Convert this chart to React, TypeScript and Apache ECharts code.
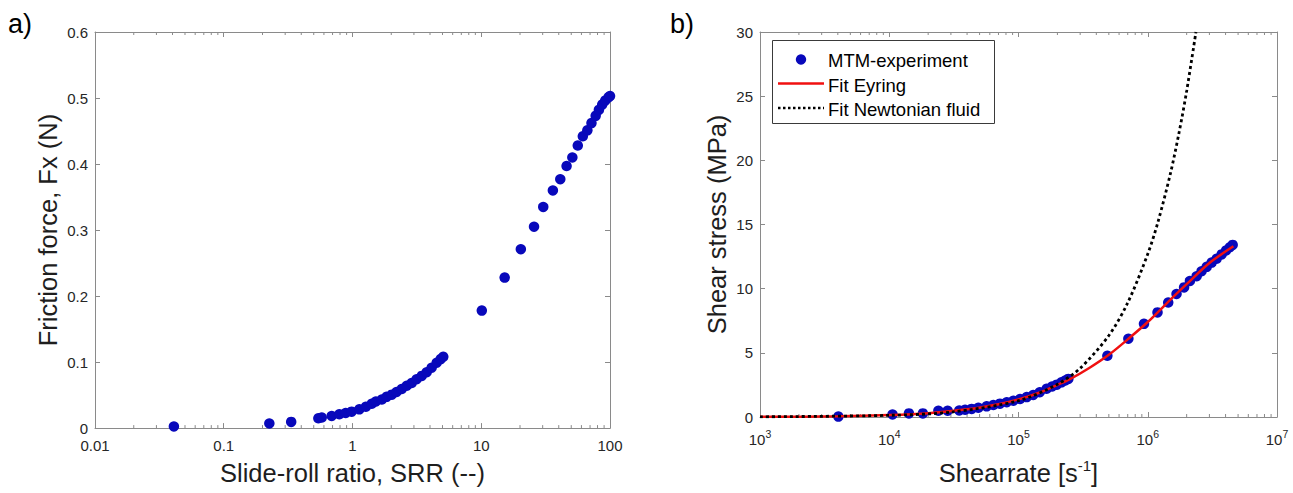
import React, { useEffect, useRef } from "react";
import * as echarts from "echarts";

// ---------- Panel a) data ----------
const srrA = [
  0.041, 0.226, 0.334, 0.543, 0.577, 0.689, 0.79, 0.885, 0.985, 1.13, 1.27, 1.41, 1.52, 1.69, 1.84,
  2.02, 2.2, 2.41, 2.64, 2.88, 3.15, 3.45, 3.77, 4.12, 4.51, 4.84, 5.07, 10.1, 15.2, 20.3, 25.7, 30.3,
  36.0, 41.1, 46.0, 51.0, 56.2, 61.5, 66.7, 71.8, 77.4, 82.0, 87.0, 91.8, 97.3, 100,
];
const fxA = [
  0.0025, 0.007, 0.0094, 0.0149, 0.016, 0.0184, 0.0209, 0.0229, 0.0249, 0.0284, 0.0323, 0.0368, 0.0403,
  0.0433, 0.0473, 0.0507, 0.0547, 0.0592, 0.0642, 0.0682, 0.0741, 0.0791, 0.0846, 0.0915, 0.099, 0.1045,
  0.108, 0.178, 0.228, 0.271, 0.305, 0.335, 0.36, 0.377, 0.397, 0.41, 0.428, 0.442, 0.451, 0.462, 0.473,
  0.482, 0.49, 0.496, 0.501, 0.503,
];
const xTickLabelsA = ["0.01", "0.1", "1", "10", "100"];

// ---------- Panel b) data ----------
const rateB = [
  4040, 10600, 14200, 18200, 24000, 28300, 34800, 38600, 43400, 48900, 56700, 63900, 71900, 81100, 91300,
  102800, 115800, 130000, 146000, 165000, 182000, 198000, 215000, 230000, 243000, 487000, 708000, 935000,
  1190000, 1440000, 1670000, 1910000, 2120000, 2390000, 2610000, 2860000, 3120000, 3410000, 3730000,
  4030000, 4320000, 4540000,
];
const stressB = [
  0.03, 0.2, 0.28, 0.28, 0.49, 0.49, 0.51, 0.56, 0.63, 0.72, 0.83, 0.93, 1.04, 1.15, 1.27, 1.4, 1.55, 1.72,
  1.93, 2.2, 2.38, 2.52, 2.7, 2.85, 2.97, 4.77, 6.1, 7.26, 8.15, 8.92, 9.59, 10.1, 10.6, 10.97, 11.36, 11.7,
  12.03, 12.33, 12.67, 12.97, 13.23, 13.41,
];
const eyringRate = [
  1000, 4000, 10000, 20000, 40000, 70000, 100000, 150000, 200000, 250000, 350000, 500000, 700000, 1000000,
  1500000, 2000000, 3000000, 4600000,
];
const eyringStress = [
  0.01, 0.05, 0.15, 0.3, 0.6, 1.0, 1.37, 1.95, 2.5, 2.95, 3.8, 4.85, 6.05, 7.4, 9.15, 10.35, 12.0, 13.3,
];
const newtonRate = [
  1000, 10000, 30000, 100000, 200000, 300000, 500000, 700000, 1000000, 1200000, 1500000, 1750000, 2000000,
  2360000,
];
const newtonStress = [0.013, 0.13, 0.38, 1.27, 2.55, 3.8, 6.35, 8.9, 12.7, 15.2, 19.0, 22.2, 25.4, 30];
const legendNamesB = ["MTM-experiment", "Fit Eyring", "Fit Newtonian fluid"];

const FONT = "Liberation Sans, Arial, Helvetica, sans-serif";
const AXIS = "#8a8a8a";
const TICKTXT = "#262626";
const TITLE = "#1e1e1e";
const BLUE = "#0808bb";
const RED = "#f01010";

const zip = (a: number[], b: number[]) => a.map((v, i) => [v, b[i]]);

function minorValues(firstDecade: number, decades: number) {
  const out: number[] = [];
  for (let d = 0; d < decades; d++) {
    const base = Math.pow(10, firstDecade + d);
    for (let k = 2; k <= 9; k++) out.push(parseFloat((k * base).toPrecision(3)));
  }
  return out;
}

function minorTickSeries(xAxisIndex: number, yAxisIndex: number, values: number[], yMin: number, yMax: number) {
  return {
    type: "custom",
    xAxisIndex,
    yAxisIndex,
    silent: true,
    clip: false,
    z: 1,
    data: values.map((v) => [v, yMin]),
    renderItem: (params: any, api: any) => {
      const v = api.value(0);
      const b = api.coord([v, yMin]);
      const t = api.coord([v, yMax]);
      const st = { stroke: AXIS, lineWidth: 1 };
      return {
        type: "group",
        children: [
          { type: "line", shape: { x1: b[0], y1: b[1], x2: b[0], y2: b[1] - 3 }, style: st },
          { type: "line", shape: { x1: t[0], y1: t[1], x2: t[0], y2: t[1] + 3 }, style: st },
        ],
      };
    },
  };
}

const axisLine = { show: true, onZero: false, lineStyle: { color: AXIS, width: 1 } };
const tickIn = { show: true, inside: true, length: 5, lineStyle: { color: AXIS } };

export default function App() {
  const ref = useRef<HTMLDivElement>(null);
  useEffect(() => {
    if (!ref.current) return;
    const chart = echarts.init(ref.current, undefined, { renderer: "svg" });
    const option: any = {
      animation: false,
      backgroundColor: "#ffffff",
      textStyle: { fontFamily: FONT },
      grid: [
        { left: 95, top: 32, width: 515, height: 402 },
        { left: 760, top: 32, width: 517, height: 390 },
      ],
      xAxis: [
        {
          type: "log",
          gridIndex: 0,
          min: 0.01,
          max: 100,
          logBase: 10,
          position: "bottom",
          axisLine,
          axisTick: tickIn,
          splitLine: { show: false },
          axisLabel: {
            color: TICKTXT,
            fontSize: 15,
            fontFamily: FONT,
            margin: 10,
            formatter: (v: number) => xTickLabelsA[Math.round(Math.log10(v)) + 2],
          },
          name: "Slide-roll ratio, SRR (--)",
          nameLocation: "middle",
          nameGap: 29,
          nameTextStyle: { fontSize: 25.5, color: TITLE, fontFamily: FONT, lineHeight: 30 },
        },
        {
          type: "log",
          gridIndex: 0,
          min: 0.01,
          max: 100,
          position: "top",
          axisLine,
          axisTick: tickIn,
          axisLabel: { show: false },
          splitLine: { show: false },
        },
        {
          type: "log",
          gridIndex: 1,
          min: 1000,
          max: 10000000,
          logBase: 10,
          position: "bottom",
          axisLine,
          axisTick: tickIn,
          splitLine: { show: false },
          axisLabel: {
            color: TICKTXT,
            fontFamily: FONT,
            margin: 11,
            formatter: (v: number) => "{b|10}{sup|" + Math.round(Math.log10(v)) + "}",
            rich: {
              b: { fontSize: 15, lineHeight: 19, verticalAlign: "bottom", color: TICKTXT, fontFamily: FONT },
              sup: { fontSize: 10.5, lineHeight: 10, verticalAlign: "top", color: TICKTXT, fontFamily: FONT },
            },
          },
          name: "Shearrate [s{sup|-1}]",
          nameLocation: "middle",
          nameGap: 41,
          nameTextStyle: {
            fontSize: 25.5,
            color: TITLE,
            fontFamily: FONT,
            lineHeight: 30,
            rich: { sup: { fontSize: 15, lineHeight: 12, verticalAlign: "top", color: TITLE, fontFamily: FONT } },
          },
        },
        {
          type: "log",
          gridIndex: 1,
          min: 1000,
          max: 10000000,
          position: "top",
          axisLine,
          axisTick: tickIn,
          axisLabel: { show: false },
          splitLine: { show: false },
        },
      ],
      yAxis: [
        {
          type: "value",
          gridIndex: 0,
          min: 0,
          max: 0.6,
          interval: 0.1,
          position: "left",
          axisLine,
          axisTick: tickIn,
          splitLine: { show: false },
          axisLabel: { color: TICKTXT, fontSize: 15, fontFamily: FONT, margin: 7 },
          name: "Friction force, Fx (N)",
          nameLocation: "middle",
          nameGap: 34,
          nameTextStyle: { fontSize: 25.5, color: TITLE, fontFamily: FONT },
        },
        {
          type: "value",
          gridIndex: 0,
          min: 0,
          max: 0.6,
          interval: 0.1,
          position: "right",
          axisLine,
          axisTick: tickIn,
          axisLabel: { show: false },
          splitLine: { show: false },
        },
        {
          type: "value",
          gridIndex: 1,
          min: 0,
          max: 30,
          interval: 5,
          position: "left",
          axisLine,
          axisTick: tickIn,
          splitLine: { show: false },
          axisLabel: { color: TICKTXT, fontSize: 15, fontFamily: FONT, margin: 7 },
          name: "Shear stress (MPa)",
          nameLocation: "middle",
          nameGap: 30,
          nameTextStyle: { fontSize: 25.5, color: TITLE, fontFamily: FONT },
        },
        {
          type: "value",
          gridIndex: 1,
          min: 0,
          max: 30,
          interval: 5,
          position: "right",
          axisLine,
          axisTick: tickIn,
          axisLabel: { show: false },
          splitLine: { show: false },
        },
      ],
      series: [
        minorTickSeries(0, 0, minorValues(-2, 4), 0, 0.6),
        minorTickSeries(2, 2, minorValues(3, 4), 0, 30),
        {
          type: "scatter",
          xAxisIndex: 0,
          yAxisIndex: 0,
          symbol: "circle",
          symbolSize: 10.5,
          itemStyle: { color: BLUE, opacity: 1 },
          data: zip(srrA, fxA),
          z: 2,
        },
        {
          name: legendNamesB[0],
          type: "scatter",
          xAxisIndex: 2,
          yAxisIndex: 2,
          symbol: "circle",
          symbolSize: 10.5,
          itemStyle: { color: BLUE, opacity: 1 },
          data: zip(rateB, stressB),
          z: 2,
        },
        {
          name: legendNamesB[1],
          type: "line",
          xAxisIndex: 2,
          yAxisIndex: 2,
          showSymbol: false,
          smooth: 0.3,
          lineStyle: { color: RED, width: 2.5 },
          data: zip(eyringRate, eyringStress),
          z: 3,
        },
        {
          name: legendNamesB[2],
          type: "line",
          xAxisIndex: 2,
          yAxisIndex: 2,
          showSymbol: false,
          smooth: 0.3,
          lineStyle: { color: "#000000", width: 2.8, type: [3, 3] },
          data: zip(newtonRate, newtonStress),
          z: 4,
        },
      ],
      graphic: [
        {
          type: "text",
          left: 8,
          top: 10,
          style: { text: "a)", fontSize: 27, fill: "#000", fontFamily: FONT },
        },
        {
          type: "text",
          left: 670,
          top: 10,
          style: { text: "b)", fontSize: 27, fill: "#000", fontFamily: FONT },
        },
        {
          type: "group",
          left: 772,
          top: 40,
          children: [
            {
              type: "rect",
              shape: { x: 0.5, y: 0.5, width: 222, height: 83 },
              style: { fill: "#ffffff", stroke: "#3a3a3a", lineWidth: 1 },
            },
            { type: "circle", shape: { cx: 29, cy: 19.5, r: 5.2 }, style: { fill: BLUE } },
            {
              type: "line",
              shape: { x1: 6, y1: 43.5, x2: 52, y2: 43.5 },
              style: { stroke: RED, lineWidth: 2.5 },
            },
            {
              type: "line",
              shape: { x1: 6, y1: 68, x2: 52, y2: 68 },
              style: { stroke: "#000", lineWidth: 2.5, lineDash: [2.5, 2.5] },
            },
            {
              type: "text",
              x: 56,
              y: 20,
              style: { text: legendNamesB[0], fontSize: 18.5, fill: "#000", fontFamily: FONT, verticalAlign: "middle" },
            },
            {
              type: "text",
              x: 56,
              y: 45,
              style: { text: legendNamesB[1], fontSize: 18.5, fill: "#000", fontFamily: FONT, verticalAlign: "middle" },
            },
            {
              type: "text",
              x: 56,
              y: 69,
              style: { text: legendNamesB[2], fontSize: 18.5, fill: "#000", fontFamily: FONT, verticalAlign: "middle" },
            },
          ],
        },
      ],
    };
    chart.setOption(option);
    return () => chart.dispose();
  }, []);
  return (
    <div
      ref={ref}
      style={{ position: "fixed", left: 0, top: 0, width: 1293, height: 493, background: "#fff" }}
    />
  );
}
